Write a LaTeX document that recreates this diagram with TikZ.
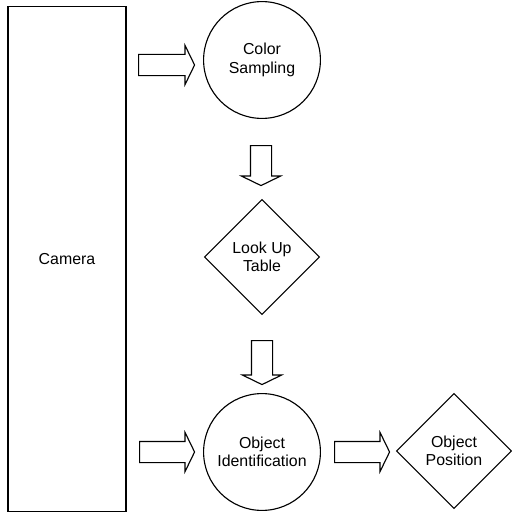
\documentclass[tikz,border=0pt]{standalone}
\usepackage{fontspec}
\setmainfont{Liberation Sans}
\usetikzlibrary{shapes.geometric,shapes.arrows}
\begin{document}
\begin{tikzpicture}[x=0.025cm,y=-0.025cm,line width=0.8pt,
                font=\fontsize{11.3}{13}\selectfont,
                box/.style={draw,rectangle,align=center,inner sep=0pt},
                stage/.style={draw,circle,align=center,inner sep=0pt,minimum size=2.92cm},
                choice/.style={draw,diamond,aspect=1,align=center,inner sep=0pt,minimum size=2.88cm},
                blockarrow/.style={draw,single arrow,inner xsep=0pt,inner ysep=0.25cm,
                    single arrow head extend=0.225cm,single arrow tip angle=128}]
                \useasboundingbox (0,0) rectangle (512,513);
                \node[box,minimum width=2.95cm,minimum height=12.6cm] (cam) at (67,259) {Camera};
                \node[stage] (cs) at (262,60) {Color\\Sampling};
                \node[choice] (lut) at (262,257) {Look Up\\Table};
                \node[stage] (oid) at (262,452) {Object\\Identification};
                \node[choice] (pos) at (454,451) {Object\\Position};
                \node[blockarrow,minimum height=1.4cm] (a1) at (164,65) {};
                \node[blockarrow,minimum height=1.0cm,rotate=-90] (a2) at (261,163) {};
                \node[blockarrow,minimum height=1.1cm,rotate=-90] (a3) at (262,360) {};
                \node[blockarrow,minimum height=1.375cm] (a4) at (164.5,452) {};
                \node[blockarrow,minimum height=1.375cm] (a5) at (359.5,452) {};
            \end{tikzpicture}
\end{document}
